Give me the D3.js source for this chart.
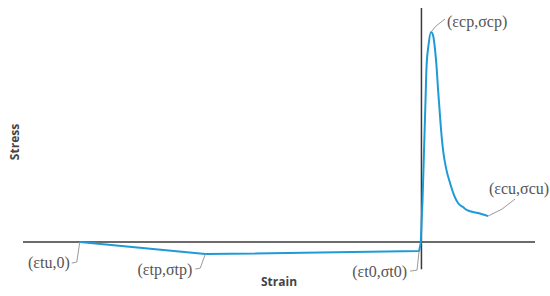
<!DOCTYPE html>
<style>
body { margin: 0; background: #fff; }
.axis-line { stroke: #3a3a3a; stroke-width: 1.5; }
.leader { fill: none; stroke: #9a9a9a; stroke-width: 1; }
.pt-label { font-family: "Liberation Serif", "DejaVu Serif", serif; font-size: 16px; fill: #555; }
.axis-title { font-family: "Open Sans", sans-serif; font-size: 12px; font-weight: bold; fill: #444; }
</style>
<svg width="550" height="296"></svg>
<script src="https://d3js.org/d3.v7.min.js"></script>
<script>

// strain / stress pairs (arbitrary units)
var strain = [-3.43, -2.17, -0.024, -0.007, 0.011, 0.026, 0.041, 0.051, 0.071, 0.096,
              0.116, 0.137, 0.152, 0.167, 0.182, 0.197, 0.217, 0.247, 0.287, 0.327,
              0.367, 0.418, 0.458, 0.568, 0.668];
var stress = [0, -0.113, -0.085, -0.01, 0.395, 0.865, 1.335, 1.645, 1.85, 1.974,
              1.945, 1.805, 1.645, 1.43, 1.24, 1.053, 0.865, 0.695, 0.555, 0.442,
              0.367, 0.329, 0.30, 0.273, 0.244];

// key points and their labels (index into the arrays above)
var labelIndex = [0, 1, 2, 9, 24];
var labelText = ["(εtu,0)", "(εtp,σtp)", "(εt0,σt0)", "(εcp,σcp)", "(εcu,σcu)"];

var xExtent = [-4, 1.14];
var yExtent = [-0.3, 2.2];

var svg = d3.select("svg");

var x = d3.scaleLinear().domain(xExtent).range([23, 535]);
var y = d3.scaleLinear().domain(yExtent).range([274, 8]);

var data = strain.map(function(s, i) { return {e: s, s: stress[i]}; });

// axes
svg.append("line").attr("class", "axis-line")
    .attr("x1", x(xExtent[0])).attr("x2", x(xExtent[1]))
    .attr("y1", y(0)).attr("y2", y(0));
svg.append("line").attr("class", "axis-line")
    .attr("x1", x(0)).attr("x2", x(0))
    .attr("y1", y(yExtent[1])).attr("y2", y(-0.255));

// curve: straight tension branch, smooth compression branch
var line = d3.line()
    .x(function(d) { return x(d.e); })
    .y(function(d) { return y(d.s); });

[[data.slice(0, 4), d3.curveLinear], [data.slice(3), d3.curveMonotoneX]].forEach(function(p) {
  svg.append("path")
      .datum(p[0])
      .attr("d", line.curve(p[1]))
      .attr("fill", "none")
      .attr("stroke", "#1e9bd7")
      .attr("stroke-width", 2)
      .attr("stroke-linejoin", "round");
});

// leader lines + labels (offsets in px from the point)
var layout = [
  {leg: [[-3, 20], [-8, 21]], tx: -10, ty: 26, anchor: "end"},
  {leg: [[-5, 14], [-10, 15]], tx: -13, ty: 21, anchor: "end"},
  {leg: [[-2, 19], [-9, 20]], tx: -12, ty: 26, anchor: "end"},
  {leg: [[5, -6], [14, -13]], tx: 16, ty: -5, anchor: "start"},
  {leg: [[14, -7], [27, -17]], tx: 1, ty: -22, anchor: "start"}
];

labelIndex.forEach(function(idx, k) {
  var px = x(strain[idx]), py = y(stress[idx]), L = layout[k];
  var pts = [[px, py]].concat(L.leg.map(function(p) { return [px + p[0], py + p[1]]; }));
  svg.append("path").attr("class", "leader").attr("d", d3.line()(pts));
  svg.append("text").attr("class", "pt-label")
      .attr("x", px + L.tx).attr("y", py + L.ty)
      .attr("text-anchor", L.anchor)
      .text(labelText[k]);
});

// axis titles
svg.append("text").attr("class", "axis-title")
    .attr("x", 279).attr("y", 286)
    .attr("text-anchor", "middle")
    .text("Strain");

svg.append("text").attr("class", "axis-title")
    .attr("transform", "translate(19,142) rotate(-90)")
    .attr("text-anchor", "middle")
    .text("Stress");

</script>
